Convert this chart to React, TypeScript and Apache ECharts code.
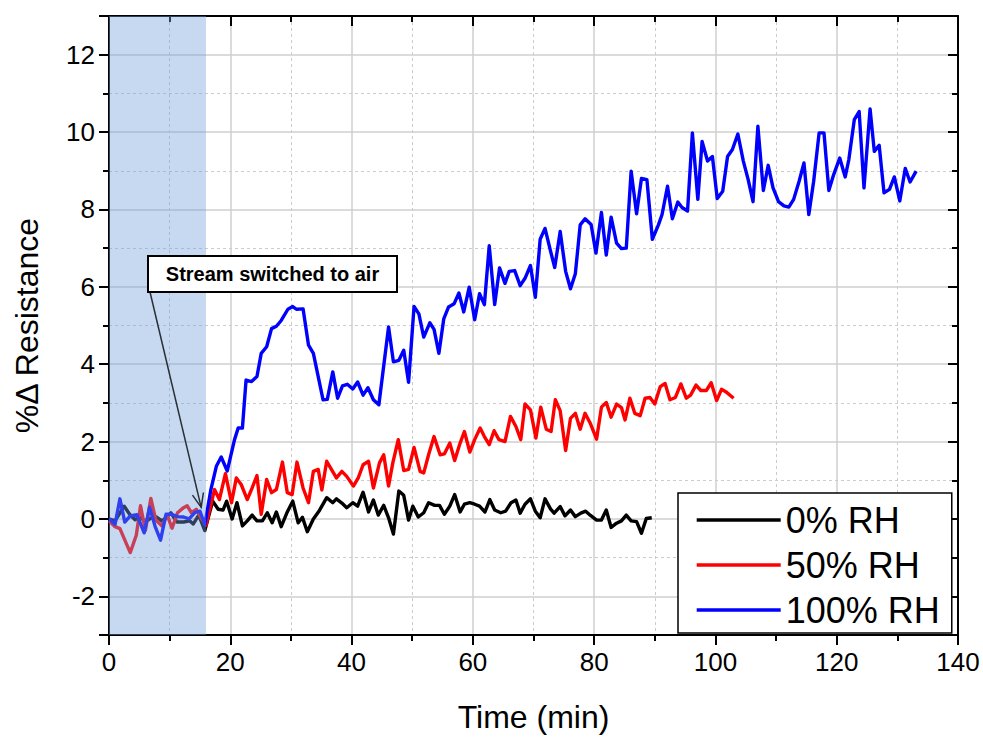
import React, { useEffect, useRef } from "react";
import * as echarts from "echarts";

const FONT = "'Liberation Sans', Arial, Helvetica, sans-serif";

// Time axis (min) for each humidity run
const time0 = [0, 1.0, 2.5, 3.4, 4.3, 5.2, 6.0, 6.9, 7.8, 8.7, 9.6, 10.2, 11.2, 12.3, 13.3, 13.9, 14.8, 15.8, 17.1, 18.0, 18.8, 19.4, 20.3, 21.1, 22.0, 22.8, 23.6, 24.4, 25.3, 26.1, 26.9, 27.6, 28.4, 29.4, 30.3, 31.2, 31.9, 32.7, 33.7, 34.7, 35.9, 36.9, 37.5, 38.4, 39.2, 40.2, 41.0, 41.9, 42.8, 43.6, 44.4, 45.3, 46.1, 46.9, 47.8, 48.6, 49.4, 50.1, 51.0, 51.9, 52.7, 53.7, 54.5, 55.3, 56.2, 57.0, 57.9, 58.6, 59.5, 60.3, 61.1, 62.0, 62.8, 63.6, 64.6, 65.4, 66.3, 67.1, 67.8, 68.6, 69.5, 70.3, 71.1, 71.9, 72.8, 73.4, 74.4, 75.2, 76.1, 76.9, 77.8, 78.6, 79.4, 80.4, 81.2, 82.0, 82.8, 83.7, 84.5, 85.3, 86.1, 87.0, 87.8, 88.6, 89.5];
const rh0 = [0, -0.05, 0.33, 0.12, -0.02, 0.05, -0.08, 0.02, 0.05, -0.05, 0.05, 0.16, -0.08, -0.08, -0.05, -0.13, 0.1, -0.3, 0.46, 0.25, 0.23, 0.46, 0, 0.42, -0.18, -0.05, 0.1, -0.05, -0.05, 0.16, -0.1, 0.18, -0.2, 0.18, 0.46, -0.1, 0.04, -0.33, 0, 0.22, 0.55, 0.42, 0.52, 0.41, 0.29, 0.42, 0.33, 0.69, 0.18, 0.49, 0.1, 0.35, 0.03, -0.39, 0.72, 0.61, -0.03, 0.33, 0.05, 0.16, 0.42, 0.35, 0.35, 0.12, 0.33, 0.63, 0.18, 0.38, 0.42, 0.38, 0.33, 0.18, 0.5, 0.23, 0.16, 0.2, 0.42, 0.49, 0.15, 0.38, 0.52, 0.2, 0.03, 0.52, 0.26, 0.15, 0.32, 0.08, 0.23, 0.06, 0.15, 0.2, 0.09, -0.03, -0.03, 0.23, -0.22, -0.11, -0.05, 0.1, -0.05, -0.07, -0.37, 0.01, 0.03];

const time50 = [0, 1.0, 1.8, 3.5, 4.5, 5.2, 6.0, 6.9, 7.7, 8.7, 9.6, 10.4, 11.3, 12.2, 12.9, 13.6, 14.4, 15.2, 16.0, 17.4, 18.2, 19.2, 20.2, 21.0, 21.8, 22.8, 23.6, 24.4, 25.1, 26.0, 26.8, 27.6, 28.6, 29.4, 30.2, 31.0, 32.0, 32.9, 33.7, 34.5, 35.1, 35.9, 37.5, 38.4, 39.2, 40.3, 41.1, 41.9, 42.8, 43.6, 44.6, 45.3, 46.1, 46.8, 47.7, 48.6, 49.4, 50.3, 51.3, 51.9, 52.7, 53.6, 54.6, 55.3, 56.2, 57.0, 57.9, 58.6, 59.5, 60.3, 61.2, 61.9, 62.7, 63.5, 64.3, 65.3, 66.2, 67.1, 67.9, 68.6, 69.5, 70.4, 71.2, 72.1, 72.9, 73.6, 74.4, 75.3, 76.1, 76.9, 77.7, 78.5, 79.4, 80.4, 81.2, 82.0, 82.8, 83.7, 84.5, 85.1, 85.9, 86.7, 87.6, 88.4, 89.2, 90.0, 90.9, 91.7, 92.5, 93.4, 94.3, 95.2, 95.9, 96.8, 97.6, 98.5, 99.3, 100.2, 101.0, 101.7, 103.0];
const rh50 = [-0.05, -0.2, -0.25, -0.87, -0.42, 0.34, -0.3, 0.53, -0.02, -0.18, 0.1, -0.24, 0.16, 0.28, 0.34, 0.16, 0.25, 0.02, -0.16, 0.76, 0.5, 1.17, 0.42, 1.06, 0.89, 0.5, 0.8, 1.12, 0.12, 1.02, 0.68, 0.76, 1.47, 0.68, 0.63, 1.47, 0.8, 0.42, 1.23, 1.28, 0.75, 1.49, 1.06, 1.23, 1.1, 0.85, 1.06, 1.4, 1.49, 0.8, 1.45, 1.66, 0.85, 1.45, 2.05, 1.25, 1.28, 1.85, 1.23, 1.19, 1.66, 2.13, 1.66, 1.68, 1.96, 1.51, 1.96, 2.26, 1.73, 2.05, 2.35, 2.13, 1.92, 2.28, 2.05, 2.0, 2.65, 2.39, 2.05, 2.97, 2.82, 2.09, 2.89, 2.32, 2.26, 3.08, 2.8, 1.77, 2.6, 2.73, 2.32, 2.73, 2.46, 2.06, 2.89, 3.01, 2.63, 2.97, 2.88, 2.56, 3.12, 2.73, 2.67, 3.12, 3.14, 2.97, 3.42, 3.5, 3.08, 3.14, 3.49, 3.12, 3.2, 3.46, 3.32, 3.32, 3.52, 3.06, 3.35, 3.29, 3.12];

const time100 = [0, 1.0, 1.8, 2.6, 3.5, 4.6, 5.8, 6.7, 7.6, 8.5, 9.4, 10.3, 11.3, 12.3, 13.2, 14.2, 15.0, 15.8, 16.8, 17.7, 18.5, 19.5, 20.7, 21.3, 22.0, 22.6, 23.5, 24.4, 25.1, 26.0, 26.8, 27.6, 28.4, 29.5, 30.3, 30.9, 32.0, 32.9, 33.7, 34.5, 35.3, 36.0, 36.9, 37.7, 38.5, 39.3, 40.2, 41.0, 41.9, 42.7, 43.6, 44.5, 46.1, 46.9, 47.8, 48.6, 49.4, 50.3, 51.1, 51.9, 52.9, 53.6, 54.4, 55.2, 56.0, 56.9, 57.7, 58.5, 59.4, 60.3, 61.1, 61.9, 62.7, 63.6, 64.4, 65.3, 66.0, 66.9, 67.8, 68.6, 69.5, 70.3, 71.1, 71.9, 72.8, 73.5, 74.4, 75.3, 76.1, 76.9, 77.7, 78.5, 79.5, 80.3, 81.2, 82.0, 82.8, 83.7, 84.5, 85.3, 86.1, 87.0, 87.8, 88.7, 89.6, 90.6, 91.2, 92.1, 92.9, 93.8, 94.5, 95.4, 96.2, 97.1, 97.8, 98.7, 99.5, 100.3, 101.2, 102.0, 102.8, 103.7, 104.6, 105.4, 106.2, 107.0, 107.9, 108.7, 109.5, 110.4, 111.3, 112.1, 112.9, 113.8, 114.6, 115.4, 116.2, 117.1, 117.9, 118.7, 119.5, 120.5, 121.4, 122.0, 122.9, 123.7, 124.5, 125.5, 126.2, 127.0, 127.8, 128.7, 129.5, 130.4, 131.3, 132.1, 133.1];
const rh100 = [0, -0.14, 0.52, -0.08, 0.08, 0.11, -0.36, 0.3, -0.19, -0.55, 0.12, 0.12, 0.06, 0.05, 0.0, 0.17, 0.2, -0.15, 0.76, 1.36, 1.6, 1.24, 2.05, 2.35, 2.35, 3.59, 3.55, 3.68, 4.28, 4.45, 4.92, 4.98, 5.13, 5.42, 5.49, 5.42, 5.43, 4.49, 4.28, 3.68, 3.08, 3.09, 3.8, 3.12, 3.44, 3.48, 3.36, 3.54, 3.2, 3.39, 3.08, 2.95, 4.96, 4.06, 4.1, 4.36, 3.53, 5.49, 5.3, 4.7, 5.07, 4.9, 4.28, 5.17, 5.48, 5.56, 5.84, 5.35, 5.99, 5.15, 5.82, 5.54, 7.06, 5.54, 6.49, 6.09, 6.4, 6.42, 6.03, 6.22, 6.55, 5.73, 7.23, 7.51, 6.93, 6.5, 7.43, 6.4, 5.95, 6.34, 7.6, 7.76, 7.61, 6.87, 7.92, 6.82, 7.8, 7.13, 6.99, 7.0, 8.99, 7.89, 8.8, 8.77, 7.23, 7.6, 7.87, 8.6, 7.76, 8.19, 8.05, 7.96, 9.98, 8.26, 9.76, 9.25, 9.37, 8.28, 8.47, 9.37, 9.55, 9.95, 9.25, 8.77, 8.2, 10.15, 8.49, 9.14, 8.56, 8.2, 8.09, 8.06, 8.26, 8.73, 9.2, 7.87, 8.73, 9.98, 9.98, 8.49, 8.9, 9.33, 8.84, 9.29, 10.32, 10.53, 8.56, 10.6, 9.5, 9.66, 8.43, 8.52, 8.84, 8.22, 9.06, 8.71, 8.99];

const seriesNames = ["0% RH", "50% RH", "100% RH"];
const seriesColors = ["#000000", "#ff0000", "#0000ff"];

// Shaded period before the stream was switched to air (min)
const shadedPeriod = [0, 16];
const annotationText = "Stream switched to air";
const annotationTip = [15.2, 0.3];

const xMin = 0, xMax = 140, xStep = 20;
const yMin = -3, yMax = 13;

const pair = (t: number[], v: number[]) =>
  t.slice(0, Math.min(t.length, v.length)).map((x, i) => [x, v[i]]);

export default function App() {
  const ref = useRef<HTMLDivElement>(null);

  useEffect(() => {
    const chart = echarts.init(ref.current!, null, { renderer: "svg" });

    const black = "#000";
    const axisCommon = {
      type: "value" as const,
      axisLine: { show: true, onZero: false, lineStyle: { color: black, width: 2 } },
    };

    const series: any[] = [
      [time0, rh0],
      [time50, rh50],
      [time100, rh100],
    ].map(([t, v], i) => ({
      name: seriesNames[i],
      type: "line",
      data: pair(t, v),
      symbol: "none",
      showSymbol: false,
      color: seriesColors[i],
      lineStyle: { color: seriesColors[i], width: 3.4, join: "round" },
      z: 2 + i,
    }));
    series[2].markArea = {
      silent: true,
      z: 6,
      itemStyle: { color: "rgba(114,159,218,0.4)" },
      data: [[{ xAxis: shadedPeriod[0] }, { xAxis: shadedPeriod[1] }]],
    };

    chart.setOption({
      animation: false,
      backgroundColor: "#ffffff",
      textStyle: { fontFamily: FONT },
      grid: { left: 109, right: 25, top: 16, bottom: 98, containLabel: false },
      xAxis: [
        {
          ...axisCommon,
          position: "bottom",
          min: xMin,
          max: xMax,
          interval: xStep,
          name: "Time (min)",
          nameLocation: "middle",
          nameGap: 66,
          nameTextStyle: { fontSize: 32, color: black, fontFamily: FONT },
          axisTick: { show: true, inside: false, length: 10, lineStyle: { color: black, width: 2 } },
          minorTick: { show: true, splitNumber: 2, length: 6, lineStyle: { color: black, width: 2 } },
          axisLabel: { fontSize: 26, color: black, margin: 14, fontFamily: FONT },
          splitLine: { show: true, lineStyle: { color: "#cfcfcf", width: 1.5 } },
          minorSplitLine: { show: true, lineStyle: { color: "#cccccc", width: 1, type: [3, 3] } },
        },
        {
          ...axisCommon,
          position: "top",
          min: xMin,
          max: xMax,
          interval: xStep,
          axisTick: { show: true, inside: true, length: 10, lineStyle: { color: black, width: 2 } },
          minorTick: { show: true, splitNumber: 2, length: 6, lineStyle: { color: black, width: 2 } },
          axisLabel: { show: false },
          splitLine: { show: false },
        },
      ],
      yAxis: [
        {
          ...axisCommon,
          position: "left",
          min: yMin,
          max: yMax,
          splitNumber: 8,
          name: "%\u0394 Resistance",
          nameLocation: "middle",
          nameGap: 66,
          nameRotate: 90,
          nameTextStyle: { fontSize: 32, color: black, fontFamily: FONT },
          axisTick: { show: true, inside: false, length: 10, lineStyle: { color: black, width: 2 } },
          minorTick: { show: true, splitNumber: 2, length: 6, lineStyle: { color: black, width: 2 } },
          axisLabel: {
            fontSize: 26,
            color: black,
            margin: 14,
            fontFamily: FONT,
            formatter: (v: number) => (Math.abs(Math.round(v)) % 2 === 0 ? String(Math.round(v)) : ""),
          },
          splitLine: { show: true, lineStyle: { color: "#cfcfcf", width: 1.5 } },
          minorSplitLine: { show: true, lineStyle: { color: "#cccccc", width: 1, type: [3, 3] } },
        },
        {
          ...axisCommon,
          position: "right",
          min: yMin,
          max: yMax,
          splitNumber: 8,
          axisTick: { show: true, inside: true, length: 10, lineStyle: { color: black, width: 2 } },
          minorTick: { show: true, splitNumber: 2, length: 6, lineStyle: { color: black, width: 2 } },
          axisLabel: { show: false },
          splitLine: { show: false },
        },
      ],
      legend: {
        orient: "vertical",
        left: 678,
        top: 493,
        data: seriesNames,
        itemWidth: 84,
        itemHeight: 2,
        itemGap: 9,
        padding: [9, 12, 5, 17],
        backgroundColor: "#ffffff",
        borderColor: black,
        borderWidth: 1.5,
        borderRadius: 0,
        itemStyle: { opacity: 0, borderWidth: 0 },
        lineStyle: { width: 3.4 },
        textStyle: { fontSize: 36, lineHeight: 36, color: black, fontFamily: FONT },
        selectedMode: false,
      },
      series,
    });

    // annotation box + arrow pointing to the switch moment
    const tip = chart.convertToPixel({ gridIndex: 0 }, annotationTip) as number[];
    const box = { x: 148, y: 256, w: 249, h: 36 };
    const start = [box.x + 2, box.y + box.h];
    const dx = tip[0] - start[0];
    const dy = tip[1] - start[1];
    const len = Math.hypot(dx, dy);
    const ux = dx / len, uy = dy / len;
    const head = 15, ang = (22 * Math.PI) / 180;
    const wing = (s: number) => [
      tip[0] - head * (ux * Math.cos(ang) - s * uy * Math.sin(ang)),
      tip[1] - head * (uy * Math.cos(ang) + s * ux * Math.sin(ang)),
    ];
    const arrowColor = "#2a2f36";

    chart.setOption({
      graphic: [
        {
          type: "line",
          z: 20,
          shape: { x1: start[0], y1: start[1], x2: tip[0], y2: tip[1] },
          style: { stroke: arrowColor, lineWidth: 1.5 },
        },
        {
          type: "polyline",
          z: 20,
          shape: { points: [wing(1), tip, wing(-1)] },
          style: { stroke: arrowColor, lineWidth: 1.5, fill: null },
        },
        {
          type: "rect",
          z: 21,
          shape: { x: box.x, y: box.y, width: box.w, height: box.h },
          style: { fill: "#ffffff", stroke: "#000", lineWidth: 2 },
        },
        {
          type: "text",
          z: 22,
          x: box.x + box.w / 2,
          y: box.y + box.h / 2,
          style: {
            text: annotationText,
            fill: "#000",
            font: `bold 20px ${FONT}`,
            align: "center",
            verticalAlign: "middle",
          },
        },
      ],
    });

    return () => chart.dispose();
  }, []);

  return (
    <div
      ref={ref}
      style={{ position: "absolute", left: 0, top: 0, width: 983, height: 738, background: "#fff" }}
    />
  );
}
